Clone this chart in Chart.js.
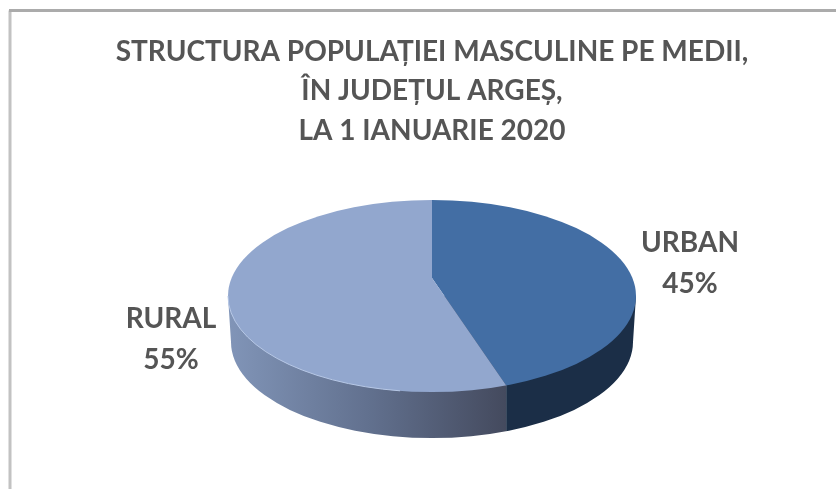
<!DOCTYPE html>
<html>
<head>
<meta charset="utf-8">
<style>
  html, body { margin: 0; padding: 0; background: #fff; }
  canvas { display: block; filter: blur(0.5px); }
</style>
<script src="https://cdn.jsdelivr.net/npm/chart.js@4"></script>
</head>
<body>
<canvas id="chart" width="836" height="489"></canvas>
<script>
const titleLines = ["STRUCTURA POPULAȚIEI MASCULINE PE MEDII,", "ÎN JUDEȚUL ARGEȘ,", "LA 1 IANUARIE 2020"];
const categories = ["URBAN", "RURAL"];
const shares = [45, 55];

const textColor = "#555555";
const cx = 432, cy = 296, rx = 204, ry = 96, depth = 46;
const apexX = 432, apexY = 278;
const squash = ry / rx;
// where each label sits
const labelPos = { URBAN: [690, 243], RURAL: [171, 319] };

function ellipsePath(ctx, x, y, a, b) {
  ctx.beginPath();
  ctx.ellipse(x, y, a, b, 0, 0, Math.PI * 2);
}

// x where the slice edge leaves the rim of the top ellipse
function rimX(angle) {
  const dx = Math.cos(angle), dy = Math.sin(angle) * squash;
  const ox = (apexX - cx) / rx, oy = (apexY - cy) / ry;
  const ux = dx / rx, uy = dy / ry;
  const a = ux * ux + uy * uy, b = 2 * (ox * ux + oy * uy), c = ox * ox + oy * oy - 1;
  const t = (-b + Math.sqrt(b * b - 4 * a * c)) / (2 * a);
  return apexX + t * dx;
}

const pie3d = {
  id: "pie3d",
  beforeDraw(chart) {
    const ctx = chart.ctx;
    ctx.save();
    ctx.lineWidth = 3;
    ctx.strokeStyle = "#c2c2c2";
    ctx.beginPath();
    ctx.moveTo(10, 489);
    ctx.lineTo(10, 10.5);
    ctx.stroke();
    ctx.strokeStyle = "#ababab";
    ctx.beginPath();
    ctx.moveTo(9, 10.5);
    ctx.lineTo(836, 10.5);
    ctx.stroke();
    ctx.restore();
  },
  beforeDatasetsDraw(chart) {
    const ctx = chart.ctx;
    const arcs = chart.getDatasetMeta(0).data;
    const splitX = rimX(arcs[0].endAngle);

    // side wall
    ctx.save();
    ctx.beginPath();
    ctx.moveTo(cx - rx, cy);
    ctx.lineTo(cx - rx + 3, cy + depth);
    ctx.ellipse(cx, cy + depth, rx - 3, ry, 0, Math.PI, 0, true);
    ctx.lineTo(cx + rx, cy);
    ctx.closePath();
    ctx.clip();
    const wall = ctx.createLinearGradient(cx - rx, 0, splitX, 0);
    wall.addColorStop(0, "#8195b8");
    wall.addColorStop(0.5, "#62718f");
    wall.addColorStop(1, "#444a5e");
    ctx.fillStyle = wall;
    ctx.fillRect(cx - rx, cy, splitX - cx + rx, ry + depth + 4);
    ctx.fillStyle = "#1b2e47";
    ctx.fillRect(splitX, cy, cx + rx - splitX, ry + depth + 4);
    ctx.restore();

    // top face: slices drawn by the library, squashed and cut to the ellipse
    const arc = arcs[0];
    const s = 320 / arc.outerRadius;
    ctx.save();
    ellipsePath(ctx, cx, cy, rx, ry);
    ctx.clip();
    ctx.translate(apexX, apexY);
    ctx.scale(s, s * squash);
    ctx.translate(-arc.x, -arc.y);
  },
  afterDatasetsDraw(chart) {
    const ctx = chart.ctx;
    ctx.restore();

    // light rim on the front of the rural slice
    ctx.save();
    ctx.strokeStyle = "#b7c8e6";
    ctx.lineWidth = 1;
    ctx.beginPath();
    ctx.ellipse(cx, cy, rx, ry, 0, Math.PI * 0.55, Math.PI);
    ctx.stroke();
    ctx.restore();

    ctx.save();
    ctx.fillStyle = textColor;
    ctx.font = "bold 28px Lato";
    ctx.textAlign = "center";
    ctx.textBaseline = "middle";
    categories.forEach((name, i) => {
      const [x, y] = labelPos[name];
      ctx.fillText(name, x, y);
      ctx.fillText(shares[i] + "%", x, y + 41);
    });
    ctx.restore();
  }
};

new Chart(document.getElementById("chart"), {
  type: "pie",
  data: {
    labels: categories,
    datasets: [{
      data: shares,
      backgroundColor: ["#436ea4", "#92a7ce"],
      borderWidth: 0,
      clip: false
    }]
  },
  options: {
    responsive: false,
    animation: false,
    layout: { padding: { left: 28 } },
    plugins: {
      legend: { display: false },
      tooltip: { enabled: false },
      title: {
        display: true,
        text: titleLines,
        color: textColor,
        font: { family: "Lato", size: 28, weight: "bold", lineHeight: 1.41 },
        padding: { top: 32, bottom: 10 }
      }
    }
  },
  plugins: [pie3d]
});
</script>
</body>
</html>
